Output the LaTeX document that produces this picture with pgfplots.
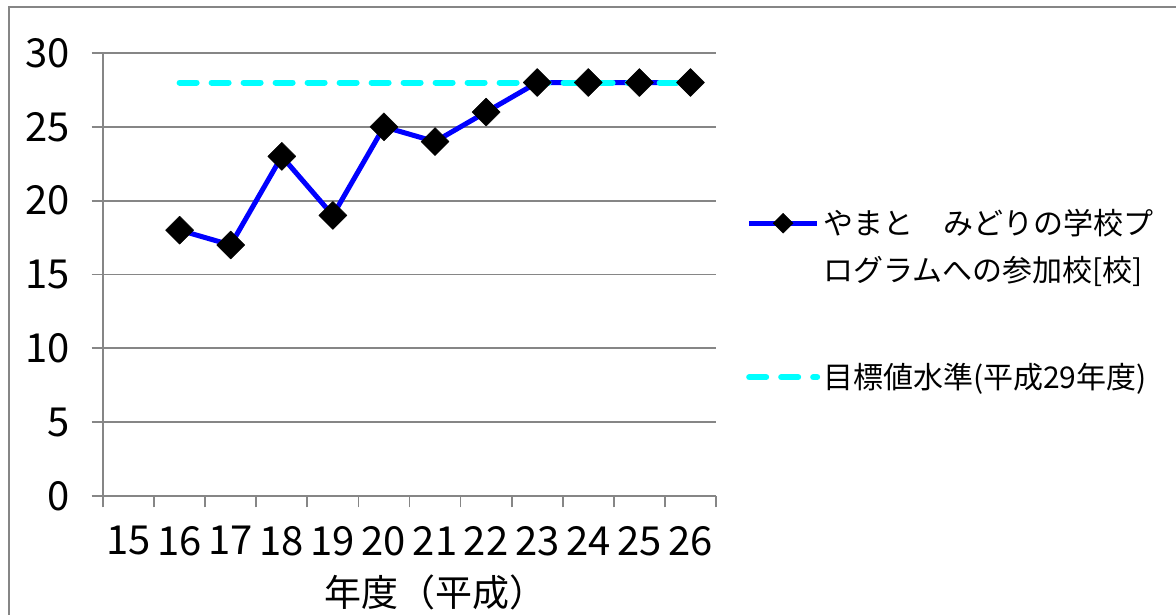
\documentclass[border=0pt]{standalone}
\usepackage{fontspec}
\setmainfont{Noto Sans CJK JP}
\usepackage{pgfplots}
\pgfplotsset{compat=1.18}
\definecolor{gridgray}{RGB}{134,134,134}
\definecolor{serblue}{RGB}{0,0,255}
\definecolor{sercyan}{RGB}{0,255,255}
\begin{document}
\begin{tikzpicture}[x=1pt,y=1pt]
\useasboundingbox (0,0) rectangle (1176,615);
\draw[gridgray, line width=2pt] (9,0) -- (9,608) -- (1176,608);
\begin{axis}[
  at={(103pt,119pt)}, anchor=south west,
  scale only axis, width=613pt, height=443pt,
  xmin=14.5, xmax=26.5, ymin=0, ymax=30,
  xtick={14.5,15.5,...,26.5},
  x tick label as interval,
  xticklabels={15,16,17,18,19,20,21,22,23,24,25,26},
  ytick={0,5,...,30},
  tick align=outside,
  major tick length=11.5pt,
  axis x line*=bottom, axis y line*=left,
  axis line style={gridgray, line width=1.8pt, -},
  tick style={gridgray, line width=1.8pt},
  ymajorgrids, major grid style={gridgray, line width=1.8pt},
  tick label style={font=\fontsize{40}{44}\selectfont,
    /pgf/number format/assume math mode=true},
  yticklabel style={anchor=east, xshift=-18pt},
  xticklabel style={yshift=-15pt},
  xlabel={年度（平成）},
  xlabel style={at={(0.543,-0.217)}, anchor=center,
    font=\fontsize{37}{40}\selectfont},
  legend style={at={(1.0489,0.6693)}, anchor=north west,
    draw=none, fill=none, inner xsep=0pt, inner ysep=0pt,
    row sep=0pt, column sep=3pt,
    font=\fontsize{30}{36}\selectfont,
    nodes={inner sep=0pt, text height=35pt, text depth=12pt}},
  legend cell align=left,
  legend image code/.code={
    \draw[mark repeat=2, mark phase=2, #1, mark size=7pt]
      plot coordinates {(3pt,0pt) (37pt,0pt) (71pt,0pt)};},
]
\addplot[serblue, line width=5pt, line join=round,
  mark=square*, mark size=9.9pt,
  mark options={rotate=45, draw=black, fill=black, line width=0.5pt}]
  coordinates {(16,18) (17,17) (18,23) (19,19) (20,25) (21,24)
    (22,26) (23,28) (24,28) (25,28) (26,28)};
\addlegendentry{やまと　みどりの学校プ}
\addlegendimage{empty legend}
\addlegendentry{ログラムへの参加校[校]}
\addlegendimage{empty legend}
\addlegendentry[text height=48pt, text depth=12pt]{}
\addplot[sercyan, line width=6pt, line cap=round,
  dash pattern=on 17pt off 15pt, no marks]
  coordinates {(16,28) (17,28) (18,28) (19,28) (20,28) (21,28)
    (22,28) (23,28) (24,28) (25,28) (26,28)};
\addlegendentry{目標値水準(平成29年度)}
\end{axis}
\end{tikzpicture}
\end{document}
